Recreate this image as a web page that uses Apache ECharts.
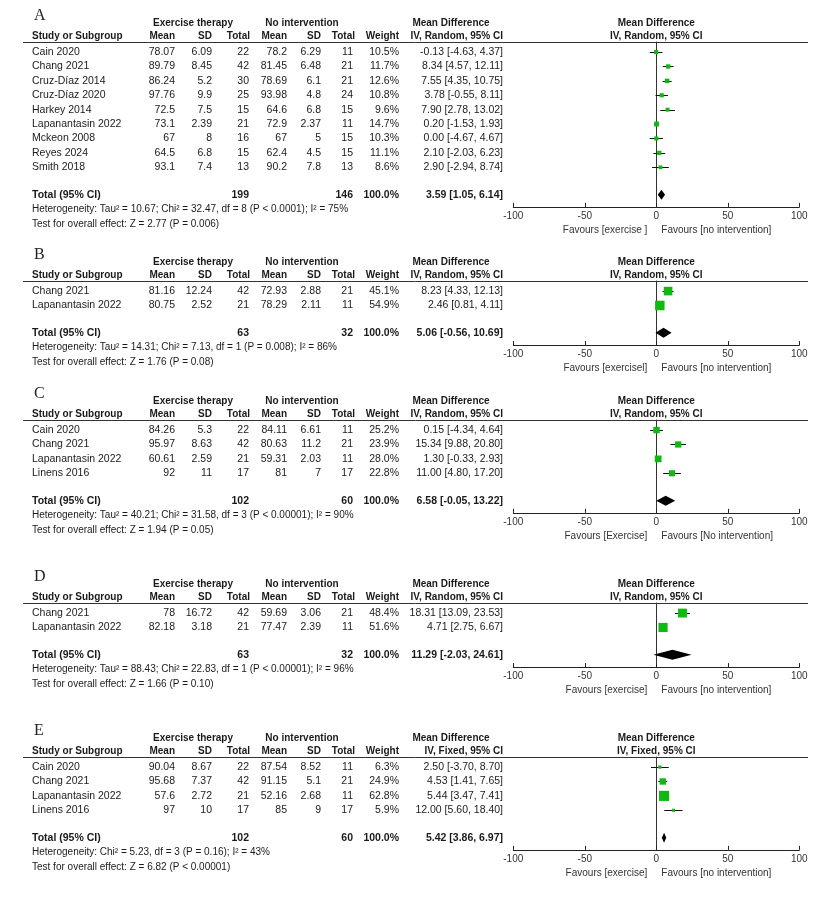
<!DOCTYPE html>
<html><head><meta charset="utf-8">
<script src="https://cdn.jsdelivr.net/npm/echarts@6/dist/echarts.min.js"></script>
<style>html,body{margin:0;padding:0;background:#fff}#c{width:825px;height:899px}</style>
</head><body><div id="c"></div>
<script>
// ---------- DATA ----------
// Panel A
const A_study = ['Cain 2020','Chang 2021','Cruz-Díaz 2014','Cruz-Díaz 2020','Harkey 2014','Lapanantasin 2022','Mckeon 2008','Reyes 2024','Smith 2018'];
const A_expMean = [78.07, 89.79, 86.24, 97.76, 72.5, 73.1, 67, 64.5, 93.1];
const A_expSD = [6.09, 8.45, 5.2, 9.9, 7.5, 2.39, 8, 6.8, 7.4];
const A_expN = [22, 42, 30, 25, 15, 21, 16, 15, 13];
const A_ctlMean = [78.2, 81.45, 78.69, 93.98, 64.6, 72.9, 67, 62.4, 90.2];
const A_ctlSD = [6.29, 6.48, 6.1, 4.8, 6.8, 2.37, 5, 4.5, 7.8];
const A_ctlN = [11, 21, 21, 24, 15, 11, 15, 15, 13];
const A_weight = [10.5, 11.7, 12.6, 10.8, 9.6, 14.7, 10.3, 11.1, 8.6];
const A_md = [-0.13, 8.34, 7.55, 3.78, 7.90, 0.20, 0.00, 2.10, 2.90];
const A_lo = [-4.63, 4.57, 4.35, -0.55, 2.78, -1.53, -4.67, -2.03, -2.94];
const A_hi = [4.37, 12.11, 10.75, 8.11, 13.02, 1.93, 4.67, 6.23, 8.74];
const A_total = [199, 146, 3.59, 1.05, 6.14]; // expN, ctlN, md, lo, hi
const A_het = 'Heterogeneity: Tau² = 10.67; Chi² = 32.47, df = 8 (P < 0.0001); I² = 75%';
const A_test = 'Test for overall effect: Z = 2.77 (P = 0.006)';
const A_fav = ['Favours [exercise ]', 'Favours [no intervention]'];

// Panel B
const B_study = ['Chang 2021','Lapanantasin 2022'];
const B_expMean = [81.16, 80.75];
const B_expSD = [12.24, 2.52];
const B_expN = [42, 21];
const B_ctlMean = [72.93, 78.29];
const B_ctlSD = [2.88, 2.11];
const B_ctlN = [21, 11];
const B_weight = [45.1, 54.9];
const B_md = [8.23, 2.46];
const B_lo = [4.33, 0.81];
const B_hi = [12.13, 4.11];
const B_total = [63, 32, 5.06, -0.56, 10.69];
const B_het = 'Heterogeneity: Tau² = 14.31; Chi² = 7.13, df = 1 (P = 0.008); I² = 86%';
const B_test = 'Test for overall effect: Z = 1.76 (P = 0.08)';
const B_fav = ['Favours [exercisel]', 'Favours [no intervention]'];

// Panel C
const C_study = ['Cain 2020','Chang 2021','Lapanantasin 2022','Linens 2016'];
const C_expMean = [84.26, 95.97, 60.61, 92];
const C_expSD = [5.3, 8.63, 2.59, 11];
const C_expN = [22, 42, 21, 17];
const C_ctlMean = [84.11, 80.63, 59.31, 81];
const C_ctlSD = [6.61, 11.2, 2.03, 7];
const C_ctlN = [11, 21, 11, 17];
const C_weight = [25.2, 23.9, 28.0, 22.8];
const C_md = [0.15, 15.34, 1.30, 11.00];
const C_lo = [-4.34, 9.88, -0.33, 4.80];
const C_hi = [4.64, 20.80, 2.93, 17.20];
const C_total = [102, 60, 6.58, -0.05, 13.22];
const C_het = 'Heterogeneity: Tau² = 40.21; Chi² = 31.58, df = 3 (P < 0.00001); I² = 90%';
const C_test = 'Test for overall effect: Z = 1.94 (P = 0.05)';
const C_fav = ['Favours [Exercise]', 'Favours [No intervention]'];

// Panel D
const D_study = ['Chang 2021','Lapanantasin 2022'];
const D_expMean = [78, 82.18];
const D_expSD = [16.72, 3.18];
const D_expN = [42, 21];
const D_ctlMean = [59.69, 77.47];
const D_ctlSD = [3.06, 2.39];
const D_ctlN = [21, 11];
const D_weight = [48.4, 51.6];
const D_md = [18.31, 4.71];
const D_lo = [13.09, 2.75];
const D_hi = [23.53, 6.67];
const D_total = [63, 32, 11.29, -2.03, 24.61];
const D_het = 'Heterogeneity: Tau² = 88.43; Chi² = 22.83, df = 1 (P < 0.00001); I² = 96%';
const D_test = 'Test for overall effect: Z = 1.66 (P = 0.10)';
const D_fav = ['Favours [exercise]', 'Favours [no intervention]'];

// Panel E
const E_study = ['Cain 2020','Chang 2021','Lapanantasin 2022','Linens 2016'];
const E_expMean = [90.04, 95.68, 57.6, 97];
const E_expSD = [8.67, 7.37, 2.72, 10];
const E_expN = [22, 42, 21, 17];
const E_ctlMean = [87.54, 91.15, 52.16, 85];
const E_ctlSD = [8.52, 5.1, 2.68, 9];
const E_ctlN = [11, 21, 11, 17];
const E_weight = [6.3, 24.9, 62.8, 5.9];
const E_md = [2.50, 4.53, 5.44, 12.00];
const E_lo = [-3.70, 1.41, 3.47, 5.60];
const E_hi = [8.70, 7.65, 7.41, 18.40];
const E_total = [102, 60, 5.42, 3.86, 6.97];
const E_het = 'Heterogeneity: Chi² = 5.23, df = 3 (P = 0.16); I² = 43%';
const E_test = 'Test for overall effect: Z = 6.82 (P < 0.00001)';
const E_fav = ['Favours [exercise]', 'Favours [no intervention]'];

const xTicks = [-100, 100, 50]; // min, max, interval

// ---------- BUILD ----------
const panels = [
  {letter:'A', method:'IV, Random, 95% CI', study:A_study, em:A_expMean, es:A_expSD, en:A_expN, cm:A_ctlMean, cs:A_ctlSD, cn:A_ctlN, w:A_weight, md:A_md, lo:A_lo, hi:A_hi, tot:A_total, het:A_het, test:A_test, fav:A_fav},
  {letter:'B', method:'IV, Random, 95% CI', study:B_study, em:B_expMean, es:B_expSD, en:B_expN, cm:B_ctlMean, cs:B_ctlSD, cn:B_ctlN, w:B_weight, md:B_md, lo:B_lo, hi:B_hi, tot:B_total, het:B_het, test:B_test, fav:B_fav},
  {letter:'C', method:'IV, Random, 95% CI', study:C_study, em:C_expMean, es:C_expSD, en:C_expN, cm:C_ctlMean, cs:C_ctlSD, cn:C_ctlN, w:C_weight, md:C_md, lo:C_lo, hi:C_hi, tot:C_total, het:C_het, test:C_test, fav:C_fav},
  {letter:'D', method:'IV, Random, 95% CI', study:D_study, em:D_expMean, es:D_expSD, en:D_expN, cm:D_ctlMean, cs:D_ctlSD, cn:D_ctlN, w:D_weight, md:D_md, lo:D_lo, hi:D_hi, tot:D_total, het:D_het, test:D_test, fav:D_fav},
  {letter:'E', method:'IV, Fixed, 95% CI', study:E_study, em:E_expMean, es:E_expSD, en:E_expN, cm:E_ctlMean, cs:E_ctlSD, cn:E_ctlN, w:E_weight, md:E_md, lo:E_lo, hi:E_hi, tot:E_total, het:E_het, test:E_test, fav:E_fav}
];

const FONT = "'Liberation Sans', Arial, Helvetica, sans-serif";
const SERIF = "'Liberation Serif', 'Times New Roman', serif";
const GREEN = '#12b812';
const TXT = '#1a1a1a';
const ROW = 14.4;
const panelTop = [42, 281, 420, 603, 757];
const COL = {name:32, em:175, es:212, en:250, cm:287, cs:321, cn:354, w:399, ci:503};

function T(text, x, y, opt) {
  return {type:'text', silent:true, style:Object.assign({text:String(text), x:x, y:y, fill:TXT, fontSize:10.5, fontFamily:FONT, align:'right', verticalAlign:'middle'}, opt || {})};
}
function ciText(m, l, h) { return m.toFixed(2) + ' [' + l.toFixed(2) + ', ' + h.toFixed(2) + ']'; }
const crisp = v => Math.round(v) + 0.5;

function render(p, params, api) {
  const n = p.study.length, i = params.dataIndex, ch = [];
  const yMax = n + 2.45;
  if (i < n) {
    const yv = 0.7 + i;
    const c = api.coord([p.md[i], yv]);
    const a = api.coord([p.lo[i], yv]);
    const b = api.coord([p.hi[i], yv]);
    const y = c[1];
    ch.push(T(p.study[i], COL.name, y, {align:'left'}));
    ch.push(T(p.em[i], COL.em, y)); ch.push(T(p.es[i], COL.es, y)); ch.push(T(p.en[i], COL.en - 1, y));
    ch.push(T(p.cm[i], COL.cm, y)); ch.push(T(p.cs[i], COL.cs, y)); ch.push(T(p.cn[i], COL.cn - 1, y));
    ch.push(T(p.w[i].toFixed(1) + '%', COL.w, y));
    ch.push(T(ciText(p.md[i], p.lo[i], p.hi[i]), COL.ci, y));
    ch.push({type:'line', silent:true, shape:{x1:a[0], y1:crisp(y), x2:b[0], y2:crisp(y)}, style:{stroke:'#111', lineWidth:1}});
    const s = 12.8 * Math.sqrt(p.w[i] / 100);
    ch.push({type:'rect', silent:true, shape:{x:c[0] - s / 2, y:y - s / 2, width:s, height:s}, style:{fill:GREEN}});
  } else if (i === n) {
    const yv = n + 1.6;
    const t = p.tot;
    const c = api.coord([t[2], yv]), a = api.coord([t[3], yv]), b = api.coord([t[4], yv]);
    const y = c[1];
    const bold = {fontWeight:'bold'};
    ch.push(T('Total (95% CI)', COL.name, y, {align:'left', fontWeight:'bold'}));
    ch.push(T(t[0], COL.en - 1, y, bold));
    ch.push(T(t[1], COL.cn - 1, y, bold));
    ch.push(T('100.0%', COL.w, y, bold));
    ch.push(T(ciText(t[2], t[3], t[4]), COL.ci, y, bold));
    ch.push({type:'polygon', silent:true, shape:{points:[[a[0], y], [c[0], y - 5], [b[0], y], [c[0], y + 5]]}, style:{fill:'#000'}});
    ch.push(T(p.het, COL.name, y + 14.6, {align:'left', fontSize:10}));
    ch.push(T(p.test, COL.name, y + 29.2, {align:'left', fontSize:10}));
  } else {
    const o = api.coord([0, 0]);
    const x0 = o[0], y0 = o[1];
    const yb = api.coord([0, yMax])[1];
    const hb = {fontWeight:'bold', fontSize:10, align:'center'};
    ch.push(T(p.letter, 34, y0 - 26, {align:'left', fontFamily:SERIF, fontSize:16, fill:'#222'}));
    const h1 = y0 - 19, h2 = y0 - 5.5;
    ch.push(T('Exercise therapy', 193, h1, hb));
    ch.push(T('No intervention', 302, h1, hb));
    ch.push(T('Mean Difference', 451, h1, hb));
    ch.push(T('Mean Difference', x0, h1, hb));
    const hr = {fontWeight:'bold', fontSize:10};
    ch.push(T('Study or Subgroup', COL.name, h2, {fontWeight:'bold', fontSize:10, align:'left'}));
    ch.push(T('Mean', COL.em, h2, hr)); ch.push(T('SD', COL.es, h2, hr)); ch.push(T('Total', COL.en, h2, hr));
    ch.push(T('Mean', COL.cm, h2, hr)); ch.push(T('SD', COL.cs, h2, hr)); ch.push(T('Total', COL.cn + 1, h2, hr));
    ch.push(T('Weight', COL.w, h2, hr));
    ch.push(T(p.method, COL.ci, h2, hr));
    ch.push(T(p.method, x0, h2, hb));
    ch.push({type:'line', silent:true, shape:{x1:23, y1:crisp(y0), x2:808, y2:crisp(y0)}, style:{stroke:'#333', lineWidth:1}});
    ch.push(T(p.fav[0], x0 - 9, yb + 23, {fontSize:10, fill:'#333'}));
    ch.push(T(p.fav[1], x0 + 5, yb + 23, {fontSize:10, fill:'#333', align:'left'}));
  }
  return {type:'group', children:ch};
}

const grids = [], xAxes = [], yAxes = [], series = [];
panels.forEach((p, k) => {
  const n = p.study.length;
  const yMax = n + 2.45;
  grids.push({left:513.3, right:25.7, top:panelTop[k], height:yMax * ROW, containLabel:false, outerBoundsMode:'none'});
  xAxes.push({gridIndex:k, type:'value', min:xTicks[0], max:xTicks[1], interval:xTicks[2],
    axisLine:{show:true, onZero:false, lineStyle:{color:'#222', width:1}},
    axisTick:{show:true, inside:true, length:4, lineStyle:{color:'#222', width:1}},
    axisLabel:{show:true, fontSize:10, color:'#333', margin:4, fontFamily:FONT, showMinLabel:true, showMaxLabel:true},
    splitLine:{show:false}});
  yAxes.push({gridIndex:k, type:'value', min:0, max:yMax, inverse:true,
    axisLine:{show:true, onZero:true, lineStyle:{color:'#333', width:1}},
    axisTick:{show:false}, axisLabel:{show:false}, splitLine:{show:false}});
  const data = [];
  for (let i = 0; i < n; i++) data.push([p.md[i], 0.7 + i]);
  data.push([p.tot[2], n + 1.6]);
  data.push([0, 0]);
  series.push({type:'custom', xAxisIndex:k, yAxisIndex:k, clip:false, silent:true, animation:false,
    data:data, renderItem:(params, api) => render(p, params, api)});
});

const chart = echarts.init(document.getElementById('c'), null, {renderer:'canvas'});
chart.setOption({
  backgroundColor:'#fff',
  animation:false,
  grid:grids, xAxis:xAxes, yAxis:yAxes, series:series
});
</script></body></html>
